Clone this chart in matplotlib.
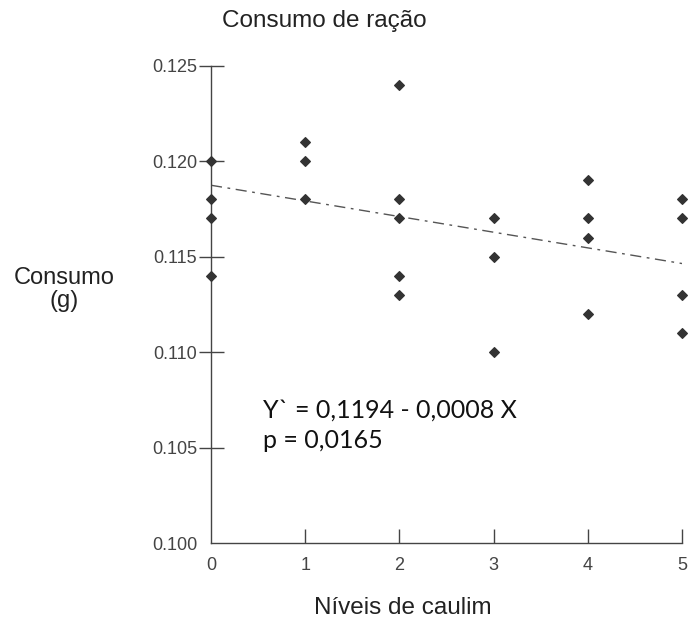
import matplotlib
matplotlib.use("Agg")
from matplotlib import pyplot as plt
import numpy as np

# kaolin levels and feed consumption (g)
niveis = [0, 0, 0, 0, 1, 1, 1, 2, 2, 2, 2, 2, 3, 3, 3, 4, 4, 4, 4, 5, 5, 5, 5]
consumo = [0.120, 0.118, 0.117, 0.114,
           0.121, 0.120, 0.118,
           0.124, 0.118, 0.117, 0.114, 0.113,
           0.117, 0.115, 0.110,
           0.119, 0.117, 0.116, 0.112,
           0.118, 0.117, 0.113, 0.111]

# fitted line as drawn
intercept = 0.11874
slope = -0.00082

yticks = [0.100, 0.105, 0.110, 0.115, 0.120, 0.125]
xticks = [0, 1, 2, 3, 4, 5]

plt.rcParams['font.family'] = ['Liberation Sans', 'DejaVu Sans']

fig = plt.figure(figsize=(6.88, 6.22), dpi=100)
ax = fig.add_axes([0.3067, 0.127, 0.6846, 0.7673])

xl = np.array([0, 5])
ax.plot(xl, intercept + slope * xl, color='#555555', linewidth=1.0,
        linestyle=(0, (8, 4, 2, 4)))
ax.scatter(niveis, consumo, marker='D', s=24, color='#333333', zorder=3, clip_on=False)

ax.set_xlim(0, 5)
ax.set_ylim(0.100, 0.125)
ax.set_xticks(xticks)
ax.set_yticks(yticks)
ax.set_xticklabels([str(t) for t in xticks])
ax.set_yticklabels(['%.3f' % t for t in yticks])

for s in ['top', 'right']:
    ax.spines[s].set_visible(False)
for s in ['left', 'bottom']:
    ax.spines[s].set_color('#444444')
    ax.spines[s].set_linewidth(1.0)

ax.tick_params(axis='y', direction='inout', length=18, width=1, color='#444444',
               labelsize=13, labelcolor='#444444', pad=1)
ax.tick_params(axis='x', direction='in', length=10, width=1, color='#444444',
               labelsize=13, labelcolor='#444444', pad=10)
# no tick marks at the origin
ax.yaxis.get_major_ticks()[0].tick1line.set_visible(False)
ax.xaxis.get_major_ticks()[0].tick1line.set_visible(False)

fig.text(0.472, 0.966, 'Consumo de ração', ha='center', va='center', fontsize=17.5, color='#222222')
fig.text(0.093, 0.535, 'Consumo\n(g)', ha='center', va='center', fontsize=17, color='#222222',
         linespacing=1.05)
fig.text(0.585, 0.023, 'Níveis de caulim', ha='center', va='center', fontsize=17.5, color='#222222')

fig.text(0.382, 0.341, 'Y` = 0,1194 - 0,0008 X', ha='left', va='center', fontsize=18,
         color='#111111', family=['Lato', 'DejaVu Sans'])
fig.text(0.382, 0.291, 'p = 0,0165', ha='left', va='center', fontsize=18,
         color='#111111', family=['Lato', 'DejaVu Sans'])

fig.savefig('out.png', dpi=100)
